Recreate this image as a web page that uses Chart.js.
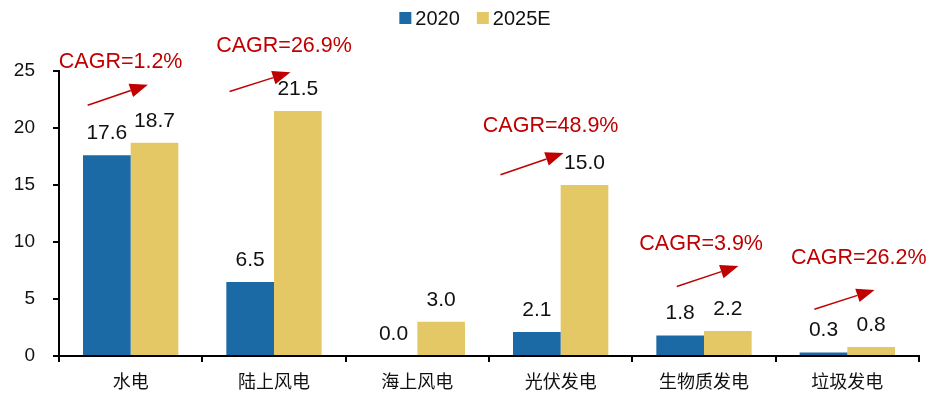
<!DOCTYPE html>
<html>
<head>
<meta charset="utf-8">
<script src="https://cdn.jsdelivr.net/npm/chart.js@4.4.1/dist/chart.umd.min.js"></script>
<style>
  html, body { margin: 0; padding: 0; background: #fff; }
  #wrap { width: 938px; height: 394px; }
</style>
</head>
<body>
<div id="wrap"><canvas id="barChart"></canvas></div>
<script>
// data
var categories = ['水电', '陆上风电', '海上风电', '光伏发电', '生物质发电', '垃圾发电']
var values2020 = [17.6, 6.5, 0.0, 2.1, 1.8, 0.3]
var values2025 = [18.7, 21.5, 3.0, 15.0, 2.2, 0.8]
var cagrLabels = ['CAGR=1.2%', 'CAGR=26.9%', null, 'CAGR=48.9%', 'CAGR=3.9%', 'CAGR=26.2%']
var yTicks = [0, 5, 10, 15, 20, 25]

// where the CAGR notes sit: x offsets in category widths, y in axis units
var cagrLayout = [
    { tx: -0.07, ty: 25.8, x0: -0.30, y0: 22.0, x1: 0.12, y1: 23.8 },
    { tx: 0.07, ty: 27.2, x0: -0.31, y0: 23.2, x1: 0.115, y1: 24.9 },
    null,
    { tx: -0.07, ty: 20.2, x0: -0.42, y0: 15.9, x1: 0.02, y1: 17.8 },
    { tx: -0.02, ty: 9.8, x0: -0.19, y0: 6.1, x1: 0.24, y1: 7.9 },
    { tx: 0.08, ty: 8.6, x0: -0.23, y0: 4.1, x1: 0.19, y1: 5.8 }
]

var RED = '#c00000'
var LATIN = 'Arial, "Liberation Sans", sans-serif'

// legend: small square right next to the text
var topLegend = {
    id: 'topLegend',
    afterDraw: function (chart) {
        var ctx = chart.ctx
        var sets = chart.data.datasets
        ctx.save()
        ctx.font = '20px ' + LATIN
        ctx.textBaseline = 'middle'
        ctx.textAlign = 'left'
        var box = 12, gap = 4, space = 17, y = 18
        var total = 0
        sets.forEach(function (ds, i) {
            total += box + gap + ctx.measureText(ds.label).width + (i ? space : 0)
        })
        var x = chart.width / 2 + 6 - total / 2
        sets.forEach(function (ds) {
            ctx.fillStyle = ds.backgroundColor
            ctx.fillRect(x, y - box / 2, box, box)
            x += box + gap
            ctx.fillStyle = '#111'
            ctx.fillText(ds.label, x, y + 1)
            x += ctx.measureText(ds.label).width + space
        })
        ctx.restore()
    }
}

// value labels over the bars
var barLabels = {
    id: 'barLabels',
    afterDatasetsDraw: function (chart) {
        var ctx = chart.ctx
        ctx.save()
        ctx.font = '21px ' + LATIN
        ctx.fillStyle = '#111'
        ctx.textAlign = 'center'
        ctx.textBaseline = 'middle'
        chart.data.datasets.forEach(function (ds, di) {
            chart.getDatasetMeta(di).data.forEach(function (bar, i) {
                ctx.fillText(ds.data[i].toFixed(1), bar.x, bar.y - 22)
            })
        })
        ctx.restore()
    }
}

// red CAGR notes with arrows
var cagrNotes = {
    id: 'cagrNotes',
    afterDraw: function (chart) {
        var ctx = chart.ctx
        var xs = chart.scales.x
        var ys = chart.scales.y
        var w = xs.getPixelForValue(1) - xs.getPixelForValue(0)
        ctx.save()
        cagrLabels.forEach(function (txt, i) {
            var l = cagrLayout[i]
            if (!txt || !l) return
            var cx = xs.getPixelForValue(i)
            ctx.font = '21.5px ' + LATIN
            ctx.fillStyle = RED
            ctx.textAlign = 'center'
            ctx.textBaseline = 'middle'
            ctx.fillText(txt, cx + l.tx * w, ys.getPixelForValue(l.ty))

            var ax = cx + l.x0 * w, ay = ys.getPixelForValue(l.y0)
            var bx = cx + l.x1 * w, by = ys.getPixelForValue(l.y1)
            var ang = Math.atan2(by - ay, bx - ax)
            var hl = 18, hw = 7
            var baseX = bx - hl * Math.cos(ang), baseY = by - hl * Math.sin(ang)
            ctx.strokeStyle = RED
            ctx.lineWidth = 1.5
            ctx.beginPath()
            ctx.moveTo(ax, ay)
            ctx.lineTo(baseX, baseY)
            ctx.stroke()
            ctx.beginPath()
            ctx.moveTo(bx, by)
            ctx.lineTo(baseX - hw * Math.sin(ang), baseY + hw * Math.cos(ang))
            ctx.lineTo(baseX + hw * Math.sin(ang), baseY - hw * Math.cos(ang))
            ctx.closePath()
            ctx.fill()
        })
        ctx.restore()
    }
}

var barChartData = {
    labels: categories,
    datasets: [
        {
            label: '2020',
            backgroundColor: '#1c6aa5',
            data: values2020
        },
        {
            label: '2025E',
            backgroundColor: '#e5c866',
            data: values2025
        }
    ]
}

var barChartOptions = {
    responsive: true,
    maintainAspectRatio: false,
    animation: false,
    layout: { padding: { top: 71, right: 19, bottom: 0, left: 0 } },
    datasets: {
        bar: { categoryPercentage: 0.665, barPercentage: 1.0 }
    },
    plugins: {
        legend: { display: false },
        tooltip: { enabled: false }
    },
    scales: {
        x: {
            afterFit: function (axis) { axis.height = 38 },
            border: { color: '#000', width: 2 },
            grid: { drawOnChartArea: false, color: '#000', lineWidth: 2, tickLength: 6, offset: true },
            ticks: {
                color: '#111',
                padding: 8,
                font: { size: 18, family: '"Noto Sans CJK SC", sans-serif' }
            }
        },
        y: {
            min: 0,
            max: 25,
            afterBuildTicks: function (axis) {
                axis.ticks = yTicks.map(function (v) { return { value: v } })
            },
            afterFit: function (axis) { axis.width = 59 },
            border: { color: '#000', width: 2 },
            grid: { drawOnChartArea: false, color: '#000', lineWidth: 2, tickLength: 6 },
            ticks: {
                color: '#111',
                padding: 18,
                font: { size: 19, family: LATIN }
            }
        }
    }
}

var barChart = new Chart(document.getElementById('barChart').getContext('2d'), {
    type: 'bar',
    data: barChartData,
    options: barChartOptions,
    plugins: [topLegend, barLabels, cagrNotes]
})
</script>
</body>
</html>
